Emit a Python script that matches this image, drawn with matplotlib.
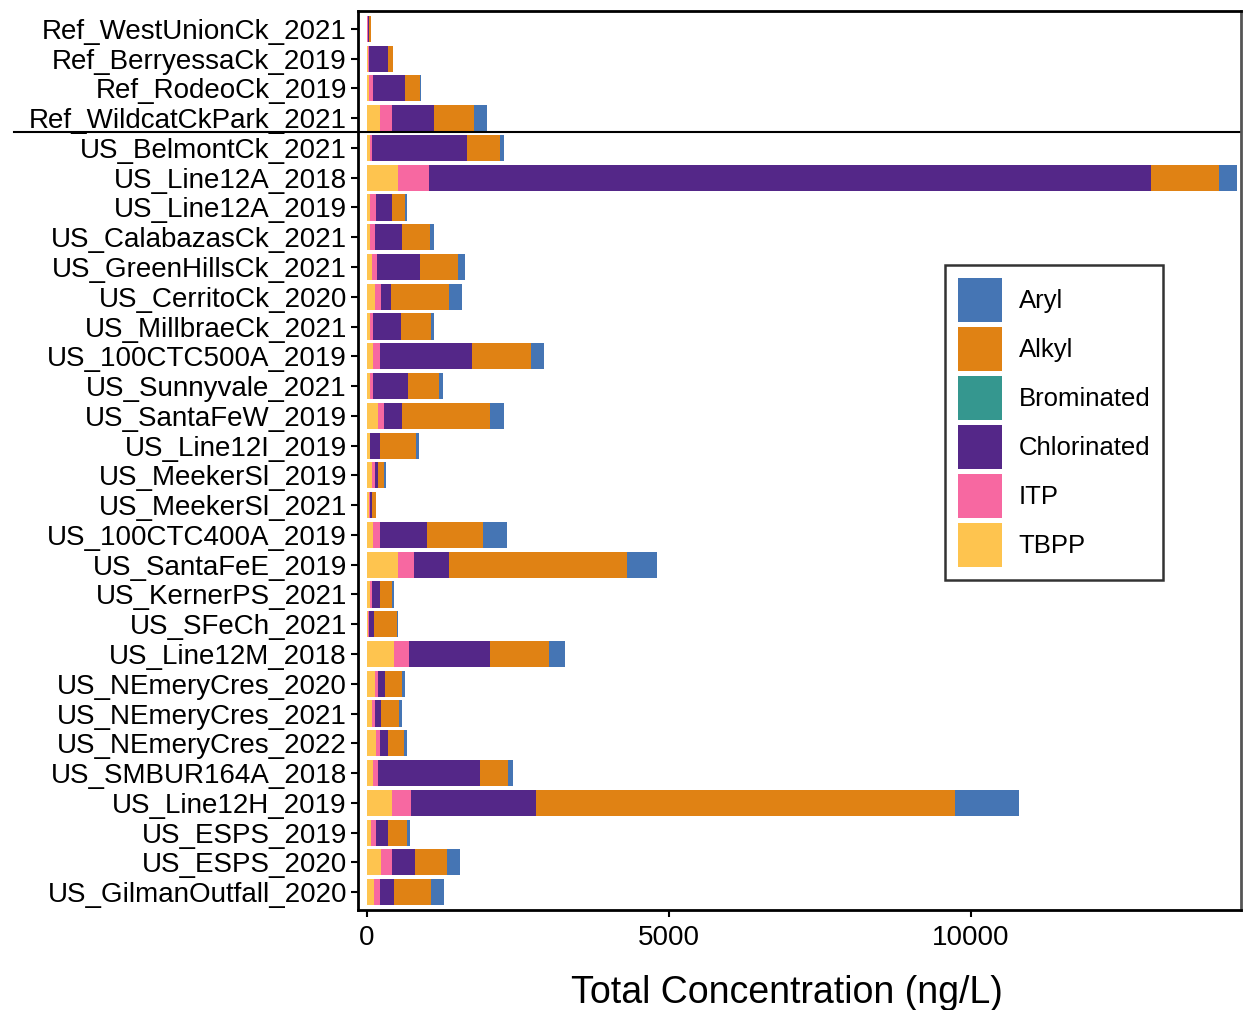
import matplotlib
matplotlib.use("Agg")
import matplotlib.pyplot as plt
from matplotlib.patches import Patch
import numpy as np

plt.rcParams['font.family'] = ['Liberation Sans', 'DejaVu Sans']

sites = ["Ref_WestUnionCk_2021", "Ref_BerryessaCk_2019", "Ref_RodeoCk_2019",
         "Ref_WildcatCkPark_2021", "US_BelmontCk_2021", "US_Line12A_2018",
         "US_Line12A_2019", "US_CalabazasCk_2021", "US_GreenHillsCk_2021",
         "US_CerritoCk_2020", "US_MillbraeCk_2021", "US_100CTC500A_2019",
         "US_Sunnyvale_2021", "US_SantaFeW_2019", "US_Line12I_2019",
         "US_MeekerSl_2019", "US_MeekerSl_2021", "US_100CTC400A_2019",
         "US_SantaFeE_2019", "US_KernerPS_2021", "US_SFeCh_2021",
         "US_Line12M_2018", "US_NEmeryCres_2020", "US_NEmeryCres_2021",
         "US_NEmeryCres_2022", "US_SMBUR164A_2018", "US_Line12H_2019",
         "US_ESPS_2019", "US_ESPS_2020", "US_GilmanOutfall_2020"]

tbpp = [5, 16, 28, 216, 44, 520, 55, 50, 83, 133, 55, 94, 55, 188, 44, 77, 33,
        105, 509, 44, 20, 442, 127, 83, 144, 105, 409, 66, 238, 111]
itp = [5, 16, 72, 193, 33, 498, 94, 77, 83, 100, 44, 122, 50, 94, 11, 55, 10,
       111, 276, 33, 10, 254, 61, 44, 72, 83, 320, 83, 177, 105]
chlorinated = [30, 310, 530, 702, 1581, 11954, 265, 453, 708, 171, 465, 1526,
               570, 299, 160, 55, 33, 774, 564, 138, 88, 1338, 111, 105, 127,
               1687, 2068, 199, 376, 238]
brominated = [0] * 30
alkyl = [25, 88, 254, 652, 536, 1133, 216, 470, 625, 946, 487, 968, 520, 1460,
         592, 88, 66, 934, 2947, 205, 370, 979, 282, 304, 276, 459, 6934, 310,
         531, 608]
aryl = [5, 0, 11, 227, 72, 293, 33, 55, 116, 221, 55, 221, 66, 221, 61, 44, 5,
        393, 509, 33, 22, 271, 44, 39, 50, 88, 1064, 55, 210, 205]

stack_order = ["TBPP", "ITP", "Chlorinated", "Brominated", "Alkyl", "Aryl"]
series = {"TBPP": tbpp, "ITP": itp, "Chlorinated": chlorinated,
          "Brominated": brominated, "Alkyl": alkyl, "Aryl": aryl}
colors = {"Aryl": "#4575B4", "Alkyl": "#E08214", "Brominated": "#35978F",
          "Chlorinated": "#542788", "ITP": "#F768A1", "TBPP": "#FEC44F"}
legend_order = ["Aryl", "Alkyl", "Brominated", "Chlorinated", "ITP", "TBPP"]

fig = plt.figure(figsize=(12.43, 10.10), dpi=100)
ax = fig.add_axes([358/1243, 1-910/1010, (1241-358)/1243, (910-11)/1010])

y = np.arange(len(sites))
left = np.zeros(len(sites))
for name in stack_order:
    vals = np.array(series[name], dtype=float)
    ax.barh(y, vals, left=left, height=0.88, color=colors[name], linewidth=0)
    left += vals

ax.set_ylim(len(sites) - 0.4, -0.6)
ax.set_xlim(-150, 14470)
ax.set_yticks(y)
ax.set_yticklabels(sites, fontsize=20)
ax.set_xticks([0, 5000, 10000])
ax.set_xticklabels(["0", "5000", "10000"], fontsize=20)
ax.tick_params(axis='both', direction='out', length=5, width=1.5, color='black',
               labelcolor='black')
ax.tick_params(axis='y', pad=3)
ax.tick_params(axis='x', pad=6)
ax.set_xlabel("Total Concentration (ng/L)", fontsize=27)
ax.xaxis.set_label_coords(0.486, -0.072)
for s in ax.spines.values():
    s.set_linewidth(2)
    s.set_color('black')
ax.spines['right'].set_color('#555555')

# separator between reference and urban sites
ax.plot([-0.39, 1.0], [3.45, 3.45], color='black', lw=1.5, clip_on=False,
        transform=ax.get_yaxis_transform())

handles = [Patch(facecolor=colors[n], edgecolor='none', label=n) for n in legend_order]
leg = ax.legend(handles=handles, loc='upper left', bbox_to_anchor=(0.665, 0.7175),
                borderaxespad=0, fontsize=18.5, handlelength=1.72, handleheight=2.27,
                labelspacing=0.19, handletextpad=0.64, borderpad=0.5,
                frameon=True, fancybox=False, edgecolor='black')
leg.get_frame().set_linewidth(1.8)

fig.savefig("out.png", dpi=100)
